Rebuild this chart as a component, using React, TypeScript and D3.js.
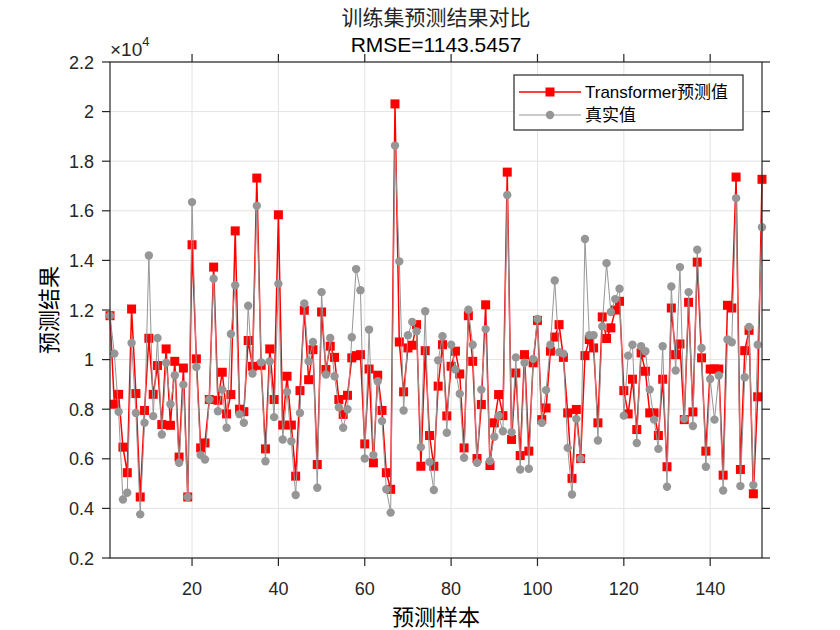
import React from "react";
import * as d3 from "d3";

// values in units of 10^4
const predicted: number[] = [
  1.177, 0.82, 0.86, 0.647, 0.544, 1.204, 0.863, 0.446, 0.795, 1.086,
  0.86, 0.976, 0.738, 1.043, 0.735, 0.993, 0.607, 0.966, 0.446, 1.463,
  1.003, 0.644, 0.664, 0.839, 1.373, 0.836, 0.949, 0.781, 0.859, 1.519,
  0.8, 0.79, 1.077, 0.973, 1.732, 0.977, 0.64, 1.043, 0.839, 1.584,
  0.736, 0.933, 0.736, 0.53, 0.875, 1.199, 0.919, 1.04, 0.577, 1.192,
  0.96, 1.054, 1.009, 0.839, 0.779, 0.856, 1.007, 1.016, 1.02, 0.66,
  0.962, 0.584, 0.937, 0.795, 0.544, 0.477, 2.031, 1.071, 0.87, 1.047,
  1.058, 1.141, 0.57, 1.036, 0.694, 0.57, 0.893, 1.06, 0.773, 0.973,
  1.034, 0.942, 0.644, 1.177, 0.993, 0.601, 0.819, 1.221, 0.573, 0.745,
  0.859, 0.774, 1.756, 0.678, 0.946, 0.613, 1.02, 0.631, 0.987, 1.158,
  0.758, 0.805, 1.034, 1.091, 1.141, 1.009, 0.785, 0.521, 0.799, 0.601,
  1.016, 1.081, 1.047, 0.745, 1.172, 1.085, 1.128, 1.2, 1.235, 0.875,
  0.781, 0.921, 0.718, 1.027, 0.953, 0.785, 0.785, 0.694, 0.921, 0.568,
  1.208, 1.02, 1.063, 0.758, 1.231, 0.789, 1.393, 1.007, 0.631, 0.962,
  0.962, 0.962, 0.534, 1.219, 1.208, 1.736, 0.557, 1.036, 1.118, 0.459,
  0.85, 1.727,
];

const actual: number[] = [
  1.177, 1.024, 0.79, 0.436, 0.463, 1.067, 0.785, 0.376, 0.745, 1.42,
  0.772, 1.087, 0.698, 0.987, 0.82, 0.937, 0.584, 0.899, 0.446, 1.635,
  0.97, 0.615, 0.597, 0.839, 1.326, 0.792, 0.879, 0.725, 1.103, 1.3,
  0.78, 0.745, 1.217, 0.944, 1.62, 0.989, 0.59, 0.993, 0.768, 1.306,
  0.678, 0.87, 0.671, 0.454, 0.785, 1.226, 0.993, 1.071, 0.483, 1.272,
  0.94, 1.087, 0.933, 0.808, 0.725, 0.8, 1.09, 1.365, 1.28, 0.601,
  1.121, 0.615, 0.913, 0.752, 0.477, 0.383, 1.863, 1.396, 0.795, 1.098,
  1.152, 1.114, 0.647, 1.195, 0.587, 0.474, 0.997, 1.094, 0.705, 1.06,
  0.96, 0.862, 0.604, 1.201, 1.06, 0.584, 0.879, 1.123, 0.591, 0.689,
  0.774, 0.711, 1.664, 0.707, 1.009, 0.557, 0.987, 0.56, 1.003, 1.164,
  0.745, 0.877, 1.06, 1.319, 1.03, 1.024, 0.644, 0.456, 0.761, 0.6,
  1.486, 1.098, 1.098, 0.674, 1.134, 1.389, 1.192, 1.244, 1.286, 0.774,
  1.016, 1.06, 0.664, 1.054, 1.034, 0.879, 0.758, 0.64, 1.054, 0.487,
  1.295, 0.956, 1.373, 0.761, 1.272, 0.732, 1.443, 1.047, 0.568, 0.922,
  0.758, 0.936, 0.472, 1.081, 1.07, 1.651, 0.49, 0.929, 1.132, 0.494,
  1.06, 1.534,
];

const xTicks = [20, 40, 60, 80, 100, 120, 140];
const yTicks = [0.2, 0.4, 0.6, 0.8, 1, 1.2, 1.4, 1.6, 1.8, 2, 2.2];
const yTickLabels = ["0.2", "0.4", "0.6", "0.8", "1", "1.2", "1.4", "1.6", "1.8", "2", "2.2"];
const title = "训练集预测结果对比";
const subtitle = "RMSE=1143.5457";
const xLabel = "预测样本";
const yLabel = "预测结果";
const seriesNames = ["Transformer预测值", "真实值"];

const W = 840;
const H = 630;
const L = 110;
const R = 762;
const T = 62;
const B = 558;
const RED = "#ff0000";
const GRAY = "#969696";
const AX = "#262626";
const FONT = "Arial, 'Liberation Sans', 'Noto Sans CJK SC', sans-serif";
const CJK = "'Noto Sans CJK SC', sans-serif";
const TICK = 8;

export default function App() {
  const n = predicted.length;
  const x = d3.scaleLinear().domain([1, n]).range([L, R]);
  const y = d3.scaleLinear().domain([0.2, 2.2]).range([B, T]);
  const line = d3
    .line<number>()
    .x((_, i) => x(i + 1))
    .y((d) => y(d));
  const sq = 9;
  const cr = 4.2;
  const lgX = 514;
  const lgY = 75;
  const lgW = 229;
  const lgH = 55;

  return (
    <svg width={W} height={H} style={{ position: "absolute", left: 0, top: 0, background: "#fff" }}>
      <rect x={0} y={0} width={W} height={H} fill="#fff" />
      {/* grid */}
      {xTicks.map((t) => (
        <line key={"gx" + t} x1={x(t)} x2={x(t)} y1={T} y2={B} stroke="#e3e3e3" strokeWidth={1} />
      ))}
      {yTicks.map((t) => (
        <line key={"gy" + t} x1={L} x2={R} y1={y(t)} y2={y(t)} stroke="#e3e3e3" strokeWidth={1} />
      ))}
      {/* series */}
      <path d={line(predicted) || ""} fill="none" stroke={RED} strokeWidth={1.5} />
      {predicted.map((v, i) => (
        <rect key={"p" + i} x={x(i + 1) - sq / 2} y={y(v) - sq / 2} width={sq} height={sq} fill={RED} />
      ))}
      <path d={line(actual) || ""} fill="none" stroke={GRAY} strokeWidth={1} />
      {actual.map((v, i) => (
        <circle key={"a" + i} cx={x(i + 1)} cy={y(v)} r={cr} fill={GRAY} />
      ))}
      {/* axes box */}
      <rect x={L} y={T} width={R - L} height={B - T} fill="none" stroke={AX} strokeWidth={1.2} />
      {xTicks.map((t) => (
        <g key={"xt" + t}>
          <line x1={x(t)} x2={x(t)} y1={B} y2={B + TICK} stroke={AX} strokeWidth={1.2} />
          <line x1={x(t)} x2={x(t)} y1={T} y2={T - TICK} stroke={AX} strokeWidth={1.2} />
          <text x={x(t)} y={B + 37} textAnchor="middle" fontSize={18} fontFamily={FONT} fill={AX}>
            {t}
          </text>
        </g>
      ))}
      {yTicks.map((t, i) => (
        <g key={"yt" + t}>
          <line x1={L} x2={L - TICK} y1={y(t)} y2={y(t)} stroke={AX} strokeWidth={1.2} />
          <line x1={R} x2={R + TICK} y1={y(t)} y2={y(t)} stroke={AX} strokeWidth={1.2} />
          <text x={L - 16} y={y(t) + 6.5} textAnchor="end" fontSize={18} fontFamily={FONT} fill={AX}>
            {yTickLabels[i]}
          </text>
        </g>
      ))}
      {/* exponent */}
      <text x={L} y={T - 6} fontSize={19} fontFamily={FONT} fill={AX}>
        ×10
        <tspan dy={-10} fontSize={13}>4</tspan>
      </text>
      {/* titles */}
      <text x={(L + R) / 2} y={25} textAnchor="middle" fontSize={21} fontFamily={CJK} fill={AX}>
        {title}
      </text>
      <text x={(L + R) / 2} y={52} textAnchor="middle" fontSize={21} fontFamily={FONT} fill="#000">
        {subtitle}
      </text>
      <text x={(L + R) / 2} y={625} textAnchor="middle" fontSize={22} fontFamily={CJK} fill="#000">
        {xLabel}
      </text>
      <text
        transform={`translate(${57},${(T + B) / 2}) rotate(-90)`}
        textAnchor="middle"
        fontSize={22}
        fontFamily={CJK}
        fill="#000"
      >
        {yLabel}
      </text>
      {/* legend */}
      <rect x={lgX} y={lgY} width={lgW} height={lgH} fill="#fff" stroke={AX} strokeWidth={1.2} />
      <line x1={lgX + 5} x2={lgX + 67} y1={lgY + 17} y2={lgY + 17} stroke={RED} strokeWidth={1.5} />
      <rect x={lgX + 36 - sq / 2} y={lgY + 17 - sq / 2} width={sq} height={sq} fill={RED} />
      <text x={lgX + 71} y={lgY + 23} fontSize={17} fontFamily={FONT} fill="#000">
        {seriesNames[0]}
      </text>
      <line x1={lgX + 5} x2={lgX + 67} y1={lgY + 40} y2={lgY + 40} stroke={GRAY} strokeWidth={1} />
      <circle cx={lgX + 36} cy={lgY + 40} r={cr} fill={GRAY} />
      <text x={lgX + 71} y={lgY + 46} fontSize={17} fontFamily={CJK} fill="#000">
        {seriesNames[1]}
      </text>
    </svg>
  );
}
